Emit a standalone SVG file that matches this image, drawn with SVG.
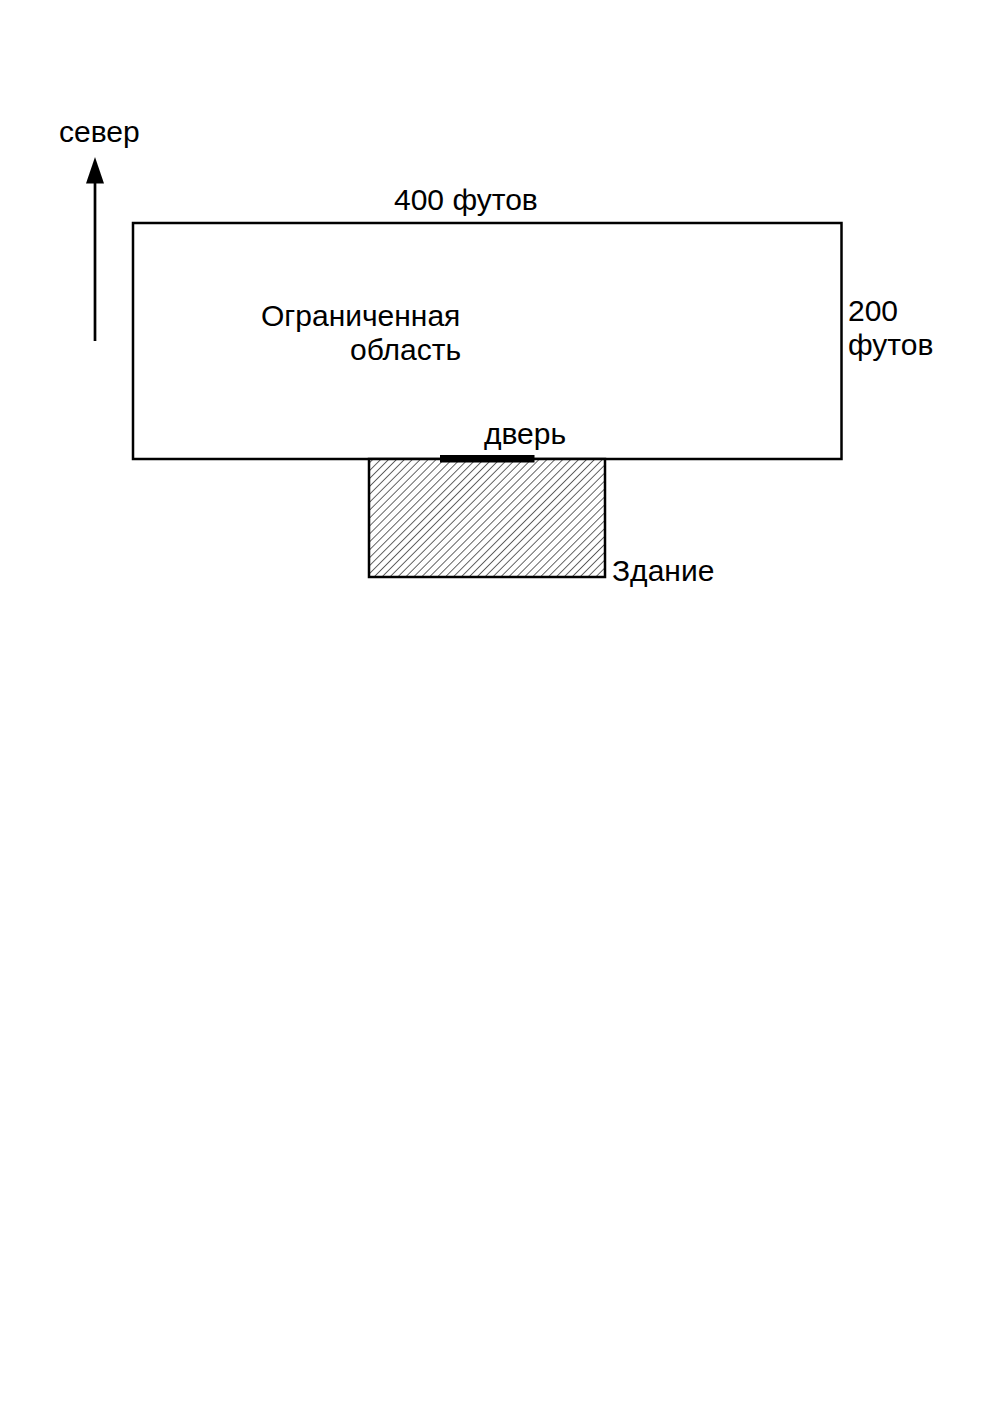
<svg xmlns="http://www.w3.org/2000/svg" width="992" height="1403" viewBox="0 0 992 1403">
<style>
text{font-family:"Liberation Sans",Arial,sans-serif;font-size:30px;fill:#000}
.o{fill:none;stroke:#000;stroke-width:2.5}
</style>
<defs>
<pattern id="h" width="5.6" height="5.6" patternUnits="userSpaceOnUse" patternTransform="rotate(45)"><rect width="5.6" height="5.6" fill="#fff"/><line x1="0" y1="0" x2="0" y2="5.6" stroke="#000" stroke-width="1.2"/></pattern>
</defs>
<rect width="992" height="1403" fill="#fff"/>
<g id="area"><rect class="o" x="133" y="223" width="708.500" height="236"/><text x="261" y="326">Ограниченная</text><text x="350" y="360">область</text></g>
<g id="building"><rect x="369" y="459" width="236" height="118" fill="url(#h)" stroke="#000" stroke-width="2.5"/><text x="612" y="581">Здание</text></g>
<g id="door"><rect x="440" y="455" width="94.500" height="7.500" fill="#000"/><text x="484" y="444">дверь</text></g>
<g id="labels"><text x="394" y="210">400 футов</text><text x="848" y="321">200</text><text x="848" y="355">футов</text></g>
<g id="north"><text x="59" y="142">север</text></g>
<g id="connectors"><line x1="95" y1="341" x2="95" y2="180" stroke="#000" stroke-width="2.7"/><polygon points="95,157 86,183.500 104,183.500" fill="#000"/></g>
</svg>
